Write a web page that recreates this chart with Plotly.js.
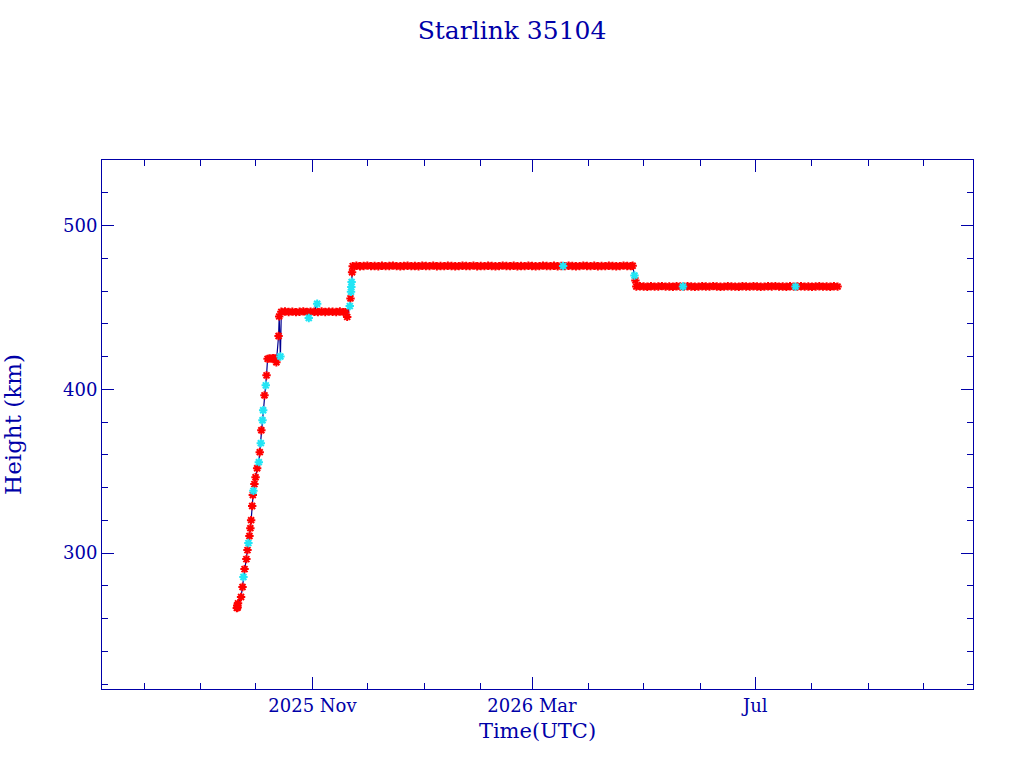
<!DOCTYPE html>
<html>
<head>
<meta charset="utf-8">
<script src="https://cdn.plot.ly/plotly-3.0.1.min.js"></script>
<style>
  html, body { margin: 0; padding: 0; background: #fff; }
  #chart { width: 1024px; height: 768px; }
</style>
</head>
<body>
<div id="chart"></div>
<script>
// ─── data ───────────────────────────────────────────────────
var climbDates = [
  '2025-09-20 16:00', '2025-09-20 21:36', '2025-09-21 03:00', '2025-09-21 08:00',
  '2025-09-23 00:00', '2025-09-23 19:00', '2025-09-24 21:36', '2025-09-25 21:36',
  '2025-09-26 12:00', '2025-09-27 14:00', '2025-09-28 02:00', '2025-09-28 12:00',
  '2025-09-29 02:00', '2025-09-29 10:00', '2025-09-30 07:00', '2025-09-30 22:00',
  '2025-10-01 19:00', '2025-10-03 05:00', '2025-10-04 02:00', '2025-10-05 19:00',
  '2025-10-06 22:00', '2025-10-07 12:00', '2025-10-08 12:00', '2025-10-09 12:00',
  '2025-10-10 12:00', '2025-10-11 12:00', '2025-10-12 07:00', '2025-10-13 12:00',
  '2025-10-13 20:00'
];
var climbHeights = [
  266.5, 268.0, 266.8, 269.3,
  273.2, 279.3, 290.2, 296.3,
  301.8, 310.4, 315.2, 320.1,
  328.7, 335.4, 342.1, 346.3,
  351.8, 361.6, 375.0, 396.3,
  408.5, 418.6, 418.9, 418.7,
  419.0, 418.8, 416.5, 432.5,
  444.5
];

var plateau1Dates = [
  '2025-10-15', '2025-10-17', '2025-10-19', '2025-10-21', '2025-10-23', '2025-10-25',
  '2025-10-27', '2025-10-29', '2025-10-31', '2025-11-02', '2025-11-04', '2025-11-06',
  '2025-11-08', '2025-11-10', '2025-11-12', '2025-11-14', '2025-11-16', '2025-11-18',
  '2025-11-19', '2025-11-20'
];
var plateau1Heights = [
  447.3, 447.5, 447.2, 447.4, 447.1, 447.3,
  447.6, 447.2, 447.4, 447.3, 447.1, 447.5,
  447.2, 447.4, 447.3, 447.2, 447.5, 447.1,
  447.0, 444.2
];

var raiseDates = ['2025-11-21 19:00', '2025-11-22 16:00'];
var raiseHeights = [455.5, 471.5];

var plateau2Dates = [
  '2025-11-23', '2025-11-25', '2025-11-27', '2025-11-29',
  '2025-12-01', '2025-12-03', '2025-12-05', '2025-12-07', '2025-12-09', '2025-12-11',
  '2025-12-13', '2025-12-15', '2025-12-17', '2025-12-19', '2025-12-21', '2025-12-23',
  '2025-12-25', '2025-12-27', '2025-12-29', '2025-12-31',
  '2026-01-02', '2026-01-04', '2026-01-06', '2026-01-08', '2026-01-10', '2026-01-12',
  '2026-01-14', '2026-01-16', '2026-01-18', '2026-01-20', '2026-01-22', '2026-01-24',
  '2026-01-26', '2026-01-28', '2026-01-30',
  '2026-02-01', '2026-02-03', '2026-02-05', '2026-02-07', '2026-02-09', '2026-02-11',
  '2026-02-13', '2026-02-15', '2026-02-17', '2026-02-19', '2026-02-21', '2026-02-23',
  '2026-02-25', '2026-02-27',
  '2026-03-01', '2026-03-03', '2026-03-05', '2026-03-07', '2026-03-09', '2026-03-11',
  '2026-03-13', '2026-03-15', '2026-03-17', '2026-03-19', '2026-03-21', '2026-03-23',
  '2026-03-25', '2026-03-27', '2026-03-29', '2026-03-31',
  '2026-04-02', '2026-04-04', '2026-04-06', '2026-04-08', '2026-04-10', '2026-04-12',
  '2026-04-14', '2026-04-16', '2026-04-18', '2026-04-20', '2026-04-22', '2026-04-24',
  '2026-04-25'
];
var plateau2Heights = [
  475.2, 475.4, 475.1, 475.3,
  475.5, 475.2, 475.3, 475.1, 475.4, 475.2,
  475.3, 475.5, 475.2, 475.1, 475.3, 475.4,
  475.2, 475.3, 475.1, 475.4,
  475.3, 475.2, 475.5, 475.1, 475.3, 475.2,
  475.4, 475.3, 475.1, 475.2, 475.4, 475.3,
  475.2, 475.5, 475.1,
  475.3, 475.2, 475.4, 475.3, 475.1, 475.2,
  475.5, 475.3, 475.2, 475.4, 475.1, 475.3,
  475.2, 475.4,
  475.3, 475.1, 475.2, 475.5, 475.3, 475.2,
  475.4, 475.1, 475.3, 475.2, 475.4, 475.3,
  475.1, 475.2, 475.5, 475.3,
  475.2, 475.4, 475.1, 475.3, 475.2, 475.4,
  475.3, 475.1, 475.2, 475.5, 475.3, 475.2,
  475.4
];

var dropDates = ['2026-04-26 12:00'];
var dropHeights = [466.5];

var plateau3Dates = [
  '2026-04-27', '2026-04-29',
  '2026-05-01', '2026-05-03', '2026-05-05', '2026-05-07', '2026-05-09', '2026-05-11',
  '2026-05-13', '2026-05-15', '2026-05-17', '2026-05-19', '2026-05-21', '2026-05-23',
  '2026-05-25', '2026-05-27', '2026-05-29', '2026-05-31',
  '2026-06-02', '2026-06-04', '2026-06-06', '2026-06-08', '2026-06-10', '2026-06-12',
  '2026-06-14', '2026-06-16', '2026-06-18', '2026-06-20', '2026-06-22', '2026-06-24',
  '2026-06-26', '2026-06-28', '2026-06-30',
  '2026-07-02', '2026-07-04', '2026-07-06', '2026-07-08', '2026-07-10', '2026-07-12',
  '2026-07-14', '2026-07-16', '2026-07-18', '2026-07-20', '2026-07-22', '2026-07-24',
  '2026-07-26', '2026-07-28', '2026-07-30',
  '2026-08-01', '2026-08-03', '2026-08-05', '2026-08-07', '2026-08-09', '2026-08-11',
  '2026-08-13', '2026-08-15'
];
var plateau3Heights = [
  462.7, 462.9,
  462.8, 462.6, 462.9, 462.7, 462.8, 463.0,
  462.7, 462.8, 462.6, 462.9, 462.8, 462.7,
  462.9, 462.8, 462.6, 462.7,
  462.9, 462.8, 462.7, 463.0, 462.8, 462.6,
  462.7, 462.9, 462.8, 462.7, 462.6, 462.9,
  462.8, 462.7, 462.9,
  462.8, 462.6, 462.7, 462.9, 462.8, 463.0,
  462.7, 462.8, 462.6, 462.9, 462.7, 462.8,
  462.9, 462.7, 462.8,
  462.6, 462.8, 462.9, 462.7, 462.8, 462.6,
  462.9, 462.7
];

// second source, drawn in cyan
var cyanDates = [
  '2025-09-24 07:00', '2025-09-27 00:00', '2025-09-29 18:00', '2025-10-02 17:00',
  '2025-10-03 19:00', '2025-10-04 17:00', '2025-10-05 02:00', '2025-10-06 12:00',
  '2025-10-14 12:00', '2025-10-30 00:00', '2025-11-03 14:00',
  '2025-11-21 10:00', '2025-11-22 02:00', '2025-11-22 06:00', '2025-11-22 10:00',
  '2026-03-18 00:00', '2026-04-26 00:00', '2026-05-22 12:00', '2026-07-23 00:00'
];
var cyanHeights = [
  285.4, 306.1, 338.0, 355.5,
  367.1, 381.1, 387.2, 402.4,
  420.0, 443.5, 452.2,
  450.8, 459.5, 462.5, 465.5,
  475.3, 469.5, 462.8, 462.7
];

var xTickVals = ['2025-11-01', '2026-03-01', '2026-07-01'];
var xTickText = ['2025 Nov', '2026 Mar', 'Jul'];
var yTickVals = [300, 400, 500];

// ─── build traces ───────────────────────────────────────────
var redDates = [].concat(climbDates, plateau1Dates, raiseDates, plateau2Dates, dropDates, plateau3Dates);
var redHeights = [].concat(climbHeights, plateau1Heights, raiseHeights, plateau2Heights, dropHeights, plateau3Heights);

// the connecting line runs through both sources in time order
var all = [];
redDates.forEach(function (d, i) { all.push({ t: d, h: redHeights[i] }); });
cyanDates.forEach(function (d, i) { all.push({ t: d, h: cyanHeights[i] }); });
all.sort(function (a, b) {
  var ta = Date.parse(a.t.replace(' ', 'T')), tb = Date.parse(b.t.replace(' ', 'T'));
  return ta - tb;
});

var ink = '#0000a8';
var serif = 'DejaVu Serif, Liberation Serif, serif';

var traces = [
  {
    type: 'scatter', mode: 'lines', hoverinfo: 'skip',
    x: all.map(function (p) { return p.t; }),
    y: all.map(function (p) { return p.h; }),
    line: { color: '#000090', width: 1.2 },
  },
  {
    type: 'scatter', mode: 'markers', name: 'red',
    x: redDates, y: redHeights,
    marker: { symbol: 'asterisk-open', size: 7, color: '#ff0000', line: { color: '#ff0000', width: 2 } },
  },
  {
    type: 'scatter', mode: 'markers', name: 'cyan',
    x: cyanDates, y: cyanHeights,
    marker: { symbol: 'asterisk-open', size: 7, color: '#22e5f5', line: { color: '#22e5f5', width: 2 } },
  },
];

var layout = {
  width: 1024, height: 768,
  paper_bgcolor: '#ffffff', plot_bgcolor: '#ffffff',
  showlegend: false,
  margin: { l: 102, r: 51, t: 160, b: 79 },
  font: { family: serif, color: ink, size: 18 },
  title: {
    text: 'Starlink 35104',
    x: 0.5, xref: 'container', xanchor: 'center',
    y: 1 - 30 / 768, yref: 'container', yanchor: 'middle',
    font: { family: serif, size: 25, color: ink },
  },
  xaxis: {
    type: 'date',
    range: ['2025-07-09', '2026-10-28'],
    tickmode: 'array', tickvals: xTickVals, ticktext: xTickText,
    ticks: 'inside', ticklen: 12, tickwidth: 1, tickcolor: ink,
    minor: { tickmode: 'linear', tick0: '2025-08-01', dtick: 'M1', ticks: 'inside', ticklen: 6, tickcolor: ink, showgrid: false },
    showgrid: false, zeroline: false,
    showline: true, linecolor: ink, linewidth: 1, mirror: 'ticks',
    tickfont: { family: serif, size: 18, color: ink },
    title: { text: 'Time(UTC)', font: { family: serif, size: 21, color: ink }, standoff: 8 },
  },
  yaxis: {
    range: [217, 540],
    tickmode: 'array', tickvals: yTickVals,
    ticks: 'inside', ticklen: 12, tickwidth: 1, tickcolor: ink,
    minor: { tickmode: 'linear', tick0: 300, dtick: 20, ticks: 'inside', ticklen: 6, tickcolor: ink, showgrid: false },
    showgrid: false, zeroline: false,
    showline: true, linecolor: ink, linewidth: 1, mirror: 'ticks',
    tickfont: { family: serif, size: 18, color: ink },
    title: { text: 'Height (km)', font: { family: serif, size: 23, color: ink }, standoff: 34 },
  },
};

Plotly.newPlot('chart', traces, layout, { staticPlot: true, displayModeBar: false });
</script>
</body>
</html>
